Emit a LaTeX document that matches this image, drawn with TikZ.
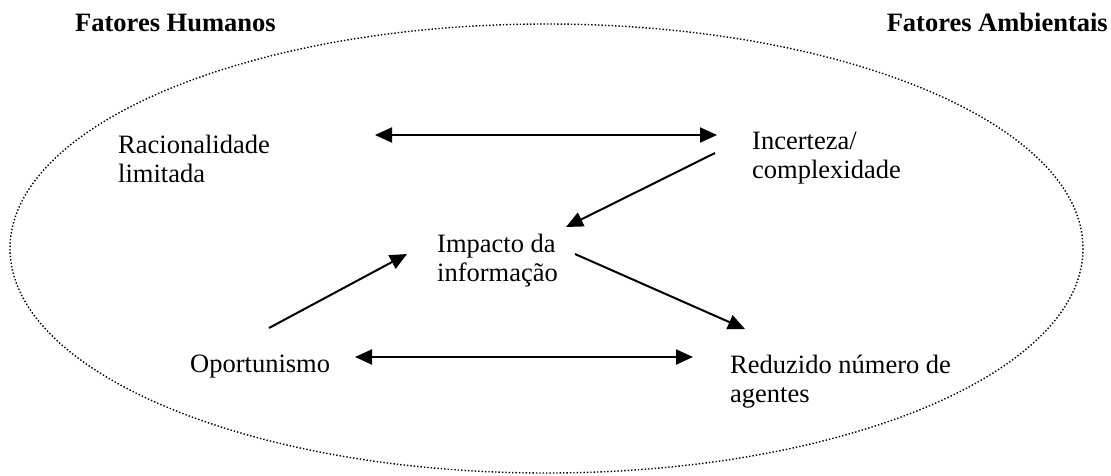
\documentclass[tikz,border=0pt]{standalone}
\usepackage{fontspec}
\setmainfont{Liberation Serif}
\usetikzlibrary{arrows.meta}
\begin{document}
\begin{tikzpicture}[x=1pt,y=-1pt,
  lbl/.style={anchor=base west, inner sep=0pt, font=\fontsize{26.5}{29}\selectfont},
  ttl/.style={inner sep=0pt, font=\fontsize{26.5}{29}\selectfont\bfseries},
  conn/.style={line width=2pt, -{Triangle[length=17pt,width=15pt]}},
  biconn/.style={line width=2pt, {Triangle[length=17pt,width=15pt]}-{Triangle[length=17pt,width=15pt]}},
  border/.style={line width=1.4pt, dash pattern=on 1.4pt off 2pt}]
\useasboundingbox (0,0) rectangle (1111,475);
\draw[border] (546.5,248.5) ellipse [x radius=536.5, y radius=224.5];
\node[ttl, anchor=base west] (th) at (75,31) {Fatores Humanos};
\node[ttl, anchor=base east] (ta) at (1108,31) {Fatores Ambientais};
\node[lbl] (rac) at (118,153) {\begin{tabular}[t]{@{}l@{}}Racionalidade\\limitada\end{tabular}};
\node[lbl] (inc) at (752,149) {\begin{tabular}[t]{@{}l@{}}Incerteza/\\complexidade\end{tabular}};
\node[lbl] (imp) at (437,252) {\begin{tabular}[t]{@{}l@{}}Impacto da\\informação\end{tabular}};
\node[lbl] (opo) at (190,372) {Oportunismo};
\node[lbl] (red) at (730,373) {\begin{tabular}[t]{@{}l@{}}Reduzido número de\\agentes\end{tabular}};
\coordinate (a1l) at (375,135);
\coordinate (a1r) at (717,135);
\coordinate (a2s) at (715,153);
\coordinate (a2e) at (566,227);
\coordinate (a3s) at (269,328);
\coordinate (a3e) at (407,254);
\coordinate (a4s) at (575,254);
\coordinate (a4e) at (745,329);
\coordinate (a5l) at (355,357);
\coordinate (a5r) at (693,357);
\draw[biconn] (a1l) -- (a1r);
\draw[conn] (a2s) -- (a2e);
\draw[conn] (a3s) -- (a3e);
\draw[conn] (a4s) -- (a4e);
\draw[biconn] (a5l) -- (a5r);
\end{tikzpicture}
\end{document}
